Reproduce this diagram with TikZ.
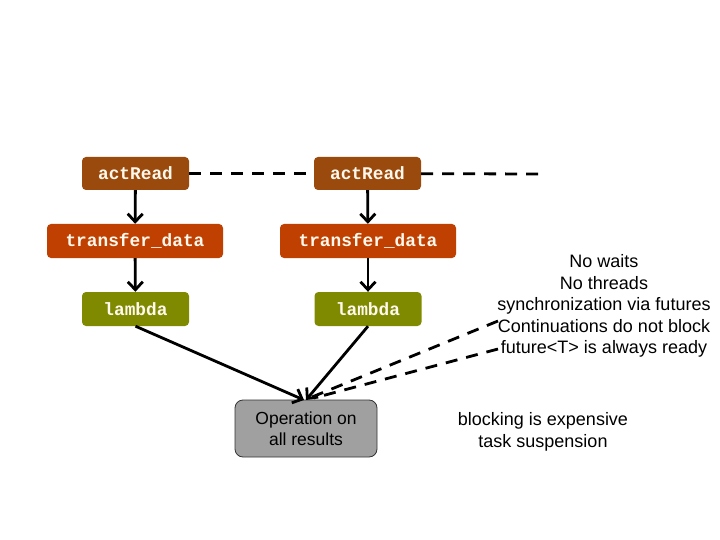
\documentclass[tikz,border=0pt]{standalone}
\usepackage{fontspec}
\setmainfont{Liberation Sans}
\newfontfamily\codefont{Liberation Mono}
\usetikzlibrary{arrows.meta}
\definecolor{actc}{HTML}{9A4A0C}
\definecolor{trc}{HTML}{BF4000}
\definecolor{lamc}{HTML}{7F8A00}
\definecolor{opc}{HTML}{A0A0A0}
\definecolor{txtc}{HTML}{FFF8EC}
\tikzset{
  codebox/.style={rounded corners=4pt, text=txtc, inner sep=0pt, font=\codefont\bfseries\fontsize{17.8}{20}\selectfont},
  actbox/.style={codebox, fill=actc, minimum width=107pt, minimum height=33pt},
  trbox/.style={codebox, fill=trc, minimum width=176pt, minimum height=34pt},
  lambox/.style={codebox, fill=lamc, minimum width=107pt, minimum height=34pt},
  opbox/.style={rounded corners=8pt, fill=opc, draw=black!80, line width=0.8pt, minimum width=142pt, minimum height=57pt, align=center, font=\fontsize{17.5}{21}\selectfont},
  flow/.style={line width=2.8pt, -{Straight Barb[length=8pt,width=15pt,line width=2.8pt]}},
  dline/.style={line width=2.8pt, dash pattern=on 12pt off 9pt},
  note/.style={align=center, font=\fontsize{18}{21.5}\selectfont, inner sep=0pt}
}
\begin{document}
\begin{tikzpicture}[x=1pt,y=-1pt]
\useasboundingbox (0,0) rectangle (720,540);
\node[actbox] (a1) at (135.5,173.5) {actRead};
\node[trbox] (t1) at (135,241) {transfer\_data};
\node[lambox] (l1) at (135.5,309) {lambda};
\node[actbox] (a2) at (367.5,173.5) {actRead};
\node[trbox] (t2) at (368,241) {transfer\_data};
\node[lambox] (l2) at (368,309) {lambda};
\node[opbox] (op) at (306,428.5) {Operation on\\all results};
\coordinate (dend) at (540,174);
\coordinate (tip1) at (304,400);
\coordinate (tip2) at (306,400);
\coordinate (n1) at (498,321);
\coordinate (n2) at (498,349);
\draw[flow] (a1) -- (t1);
\draw[flow] (t1) -- (l1);
\draw[flow] (a2) -- (t2);
\draw[flow] (t2) -- (l2);
\draw[dline] (a1) -- (a2);
\draw[dline] (a2) -- (dend);
\draw[flow] (l1.south) -- (tip1);
\draw[flow] (l2.south) -- (tip2);
\draw[dline] (n1) -- (312,397);
\draw[dline] (n2) -- (314,398);
\node[note] (notes) at (604,306) {No waits\\No threads\\synchronization via futures\\Continuations do not block\\future<T> is always ready};
\node[note] (block) at (543,432) {blocking is expensive\\task suspension};
\end{tikzpicture}
\end{document}
